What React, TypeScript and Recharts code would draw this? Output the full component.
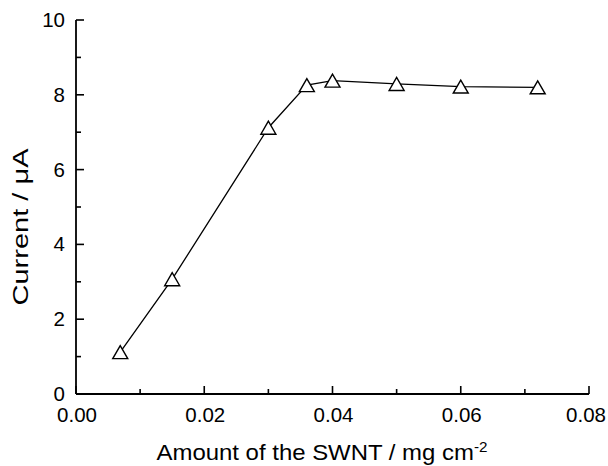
import React from 'react';
import { LineChart, Line, XAxis, YAxis, Label } from 'recharts';

const amounts = [0.0069, 0.015, 0.030, 0.036, 0.040, 0.050, 0.060, 0.072];
const currents = [1.12, 3.07, 7.12, 8.26, 8.38, 8.29, 8.22, 8.20];
const xTicks = [0, 0.01, 0.02, 0.03, 0.04, 0.05, 0.06, 0.07, 0.08];
const xLabelTicks = [0, 0.02, 0.04, 0.06, 0.08];
const yTicks = [0, 1, 2, 3, 4, 5, 6, 7, 8, 9, 10];
const yLabelTicks = [0, 2, 4, 6, 8, 10];

const data = amounts.map((a, i) => ({ x: a, y: currents[i] }));

const W = 608;
const H = 466;
const PLOT_LEFT = 76;
const PLOT_RIGHT = 589;
const PLOT_TOP = 20;
const PLOT_BOTTOM = 394;
const FONT = 'Liberation Sans, Arial, sans-serif';

const near = (a: number, b: number) => Math.abs(a - b) < 1e-9;

const XTick = (p: any) => {
  const v = p.payload.value;
  const major = xLabelTicks.some((t) => near(t, v));
  const x = p.payload.coordinate ?? p.x;
  const isLast = near(v, xLabelTicks[xLabelTicks.length - 1]);
  return (
    <g>
      <line x1={x} x2={x} y1={PLOT_BOTTOM} y2={PLOT_BOTTOM - (major ? 8 : 5)} stroke="#000" strokeWidth={1.6} />
      {major && (
        <text x={isLast ? x - 3 : x + 1} y={422} textAnchor="middle" fontSize={20.5} fontFamily={FONT} fill="#000">
          {v.toFixed(2)}
        </text>
      )}
    </g>
  );
};

const YTick = (p: any) => {
  const v = p.payload.value;
  const major = yLabelTicks.some((t) => near(t, v));
  const y = p.payload.coordinate ?? p.y;
  return (
    <g>
      <line x1={PLOT_LEFT} x2={PLOT_LEFT + (major ? 8 : 5)} y1={y} y2={y} stroke="#000" strokeWidth={1.6} />
      {major && (
        <text x={65} y={y + 7} textAnchor="end" fontSize={20.5} fontFamily={FONT} fill="#000">
          {String(v)}
        </text>
      )}
    </g>
  );
};

const TriangleDot = (p: any) => {
  const { cx, cy } = p;
  if (cx == null || cy == null) return null;
  const hw = 7.5;
  const hh = 6.5;
  return (
    <polygon
      key={`t-${p.index}`}
      points={`${cx},${cy - hh} ${cx - hw},${cy + hh} ${cx + hw},${cy + hh}`}
      fill="#fff"
      stroke="#000"
      strokeWidth={1.4}
    />
  );
};

export default function App() {
  return (
    <div style={{ position: 'absolute', left: 0, top: 0, width: W, height: H, background: '#fff' }}>
      <LineChart
        width={W}
        height={H}
        data={data}
        margin={{ top: PLOT_TOP, right: W - PLOT_RIGHT, bottom: 0, left: 0 }}
      >
        <XAxis
          dataKey="x"
          type="number"
          domain={[0, 0.08]}
          ticks={xTicks}
          interval={0}
          height={H - PLOT_BOTTOM}
          axisLine={{ stroke: '#000', strokeWidth: 1.8 }}
          tickLine={false}
          tick={<XTick />}
        >
          <Label
            content={() => (
              <text
                x={322}
                y={460}
                textAnchor="middle"
                fontSize={22}
                fontFamily={FONT}
                fill="#000"
                textLength={331}
                lengthAdjust="spacingAndGlyphs"
              >
                Amount of the SWNT / mg cm
                <tspan dy={-8} fontSize={14}>-2</tspan>
              </text>
            )}
          />
        </XAxis>
        <YAxis
          dataKey="y"
          type="number"
          domain={[0, 10]}
          ticks={yTicks}
          interval={0}
          width={PLOT_LEFT}
          axisLine={{ stroke: '#000', strokeWidth: 1.8 }}
          tickLine={false}
          tick={<YTick />}
        >
          <Label
            content={() => (
              <text
                x={28}
                y={227}
                transform="rotate(-90, 28, 227)"
                textAnchor="middle"
                fontSize={22}
                fontFamily={FONT}
                fill="#000"
                textLength={157}
                lengthAdjust="spacingAndGlyphs"
              >
                Current / μA
              </text>
            )}
          />
        </YAxis>
        <Line
          dataKey="y"
          type="linear"
          stroke="#000"
          strokeWidth={1.3}
          dot={<TriangleDot />}
          isAnimationActive={false}
        />
      </LineChart>
    </div>
  );
}
